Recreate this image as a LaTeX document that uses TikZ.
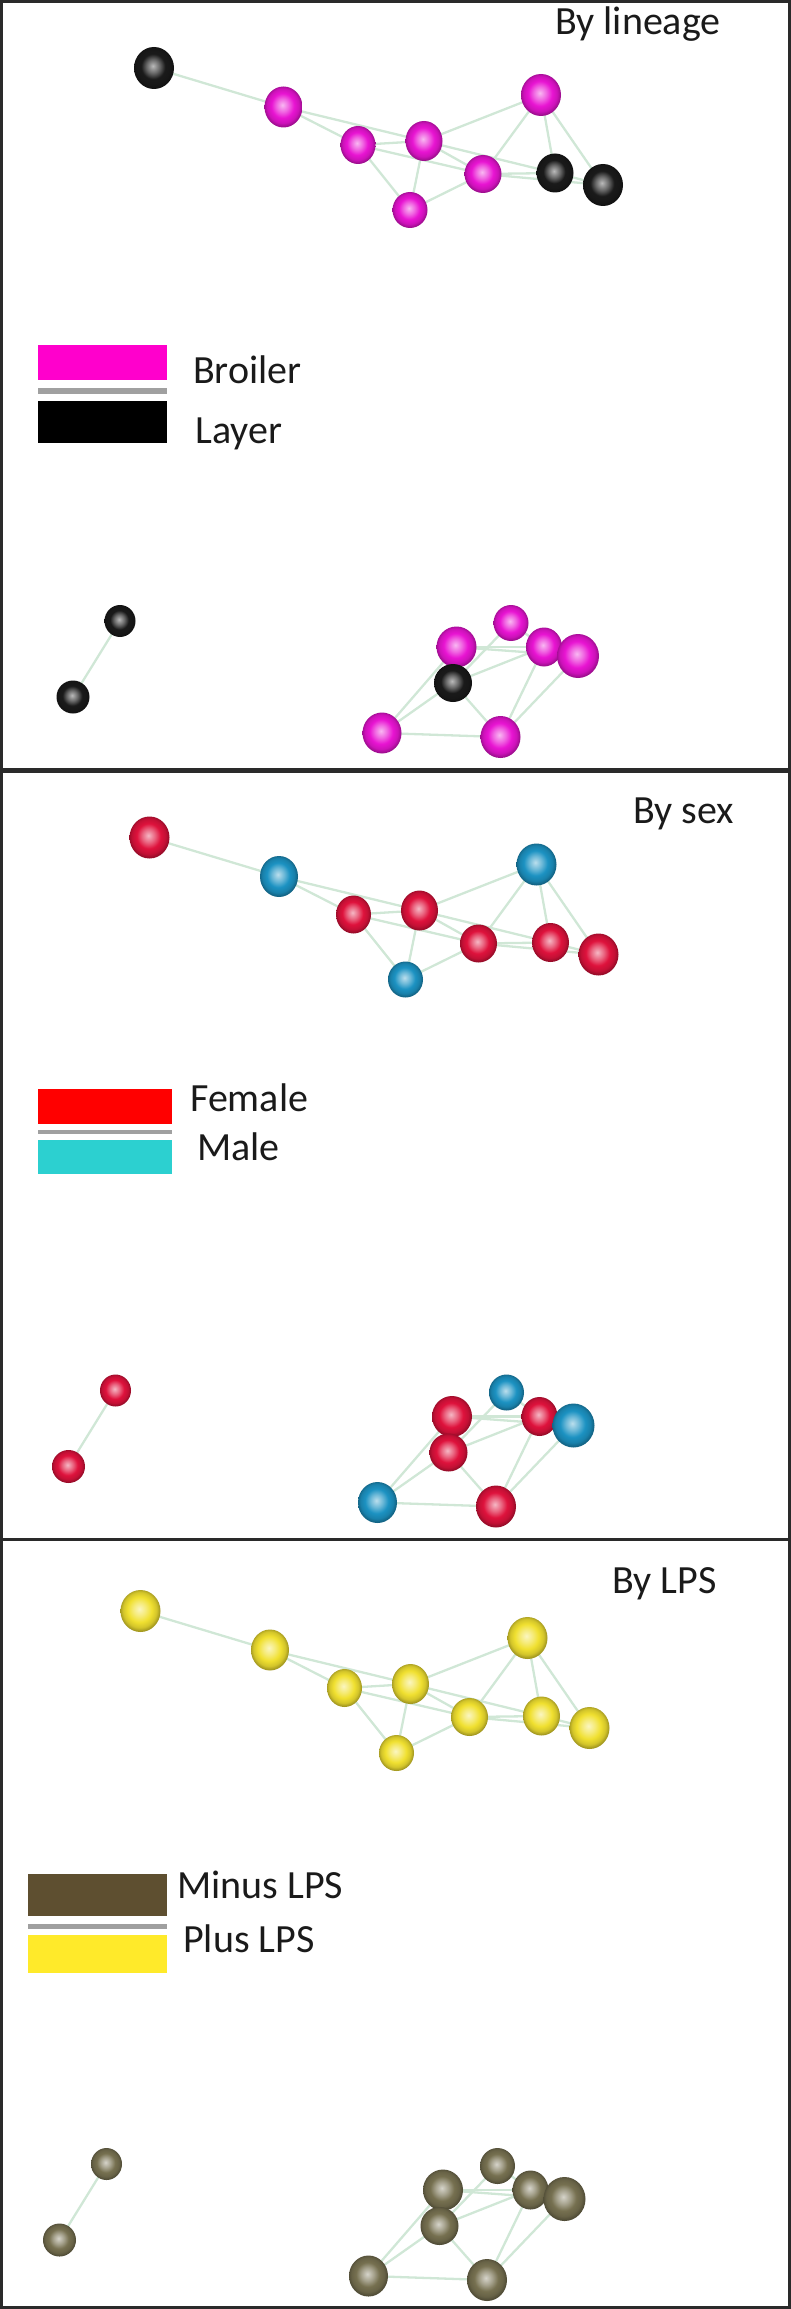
\documentclass[tikz,border=0pt]{standalone}
\usepackage{fontspec}
\setmainfont{Carlito}
\usetikzlibrary{shapes.geometric,backgrounds}
\makeatletter
\pgfdeclareradialshading[tikz@ball]{netball}{\pgfqpoint{-1.5bp}{2.5bp}}{%
 color(0bp)=(tikz@ball!30!white);
 color(8bp)=(tikz@ball!65!white);
 color(15bp)=(tikz@ball);
 color(21bp)=(tikz@ball!88!black);
 color(25bp)=(tikz@ball!68!black);
 color(50bp)=(tikz@ball!68!black)}
\makeatother
\definecolor{ballmag}{HTML}{E814D2}
\definecolor{ballblk}{HTML}{1A1A1A}
\definecolor{ballred}{HTML}{DE123C}
\definecolor{ballblue}{HTML}{1C92C2}
\definecolor{ballyel}{HTML}{F0E030}
\definecolor{ballbrn}{HTML}{767050}
\definecolor{legmag}{HTML}{FF00CC}
\definecolor{legred}{HTML}{FF0000}
\definecolor{legcyan}{HTML}{2CD0D0}
\definecolor{legbrn}{HTML}{5E4F30}
\definecolor{legyel}{HTML}{FFEA2A}
\definecolor{leggrey}{HTML}{A0A0A0}
\definecolor{edgegreen}{HTML}{D0E7D6}
\definecolor{framecol}{HTML}{2A2A2A}
\definecolor{txt}{HTML}{1A1A1A}
\begin{document}
\begin{tikzpicture}[x=1pt,y=-1pt,
  sz/.style 2 args={ellipse, inner sep=0pt, draw=none, minimum width=#1pt, minimum height=#2pt},
  mag/.style={ball color=ballmag, shading=netball},
  blk/.style={ball color=ballblk, shading=netball},
  red/.style={ball color=ballred, shading=netball},
  blu/.style={ball color=ballblue, shading=netball},
  yel/.style={ball color=ballyel, shading=netball},
  brn/.style={ball color=ballbrn, shading=netball},
  edge/.style={draw=edgegreen, line width=2.3pt},
  lbl/.style={anchor=base west, inner sep=0pt, text=txt, font=\fontsize{40}{48}\selectfont},
  framel/.style={draw=framecol}
]
\useasboundingbox (0,0) rectangle (791,2309);

% ---------------- Panel 1: By lineage ----------------
\node[sz={40}{42}, blk] (A1) at (154,68) {};
\node[sz={38}{41}, mag] (B1) at (283.5,107) {};
\node[sz={35}{38}, mag] (C1) at (358,145) {};
\node[sz={37}{40}, mag] (D1) at (424,141) {};
\node[sz={40}{42}, mag] (E1) at (541,95) {};
\node[sz={37}{38}, mag] (F1) at (483,174) {};
\node[sz={37}{39}, blk] (G1) at (555,173) {};
\node[sz={40}{42}, blk] (H1) at (603,185) {};
\node[sz={35}{36}, mag] (I1) at (410,210) {};
\node[sz={31}{32}, blk] (J1) at (120,621) {};
\node[sz={33}{33}, blk] (K1) at (73,697) {};
\node[sz={35}{36}, mag] (L1) at (511,623) {};
\node[sz={40}{41}, mag] (M1) at (456.5,647) {};
\node[sz={36}{39}, mag] (N1) at (544,647) {};
\node[sz={42}{44}, mag] (O1) at (578,656) {};
\node[sz={38}{38}, blk] (P1) at (453,683) {};
\node[sz={39}{41}, mag] (Q1) at (382,733) {};
\node[sz={40}{42}, mag] (R1) at (500.5,737) {};

% ---------------- Panel 2: By sex ----------------
\begin{scope}[shift={(-4.5,769.5)}]
\node[sz={40}{42}, red] (A2) at (154,68) {};
\node[sz={38}{41}, blu] (B2) at (283.5,107) {};
\node[sz={35}{38}, red] (C2) at (358,145) {};
\node[sz={37}{40}, red] (D2) at (424,141) {};
\node[sz={40}{42}, blu] (E2) at (541,95) {};
\node[sz={37}{38}, red] (F2) at (483,174) {};
\node[sz={37}{39}, red] (G2) at (555,173) {};
\node[sz={40}{42}, red] (H2) at (603,185) {};
\node[sz={35}{36}, blu] (I2) at (410,210) {};
\node[sz={31}{32}, red] (J2) at (120,621) {};
\node[sz={33}{33}, red] (K2) at (73,697) {};
\node[sz={35}{36}, blu] (L2) at (511,623) {};
\node[sz={40}{41}, red] (M2) at (456.5,647) {};
\node[sz={36}{39}, red] (N2) at (544,647) {};
\node[sz={42}{44}, blu] (O2) at (578,656) {};
\node[sz={38}{38}, red] (P2) at (453,683) {};
\node[sz={39}{41}, blu] (Q2) at (382,733) {};
\node[sz={40}{42}, red] (R2) at (500.5,737) {};
\end{scope}

% ---------------- Panel 3: By LPS ----------------
\begin{scope}[shift={(-13.5,1543)}]
\node[sz={40}{42}, yel] (A3) at (154,68) {};
\node[sz={38}{41}, yel] (B3) at (283.5,107) {};
\node[sz={35}{38}, yel] (C3) at (358,145) {};
\node[sz={37}{40}, yel] (D3) at (424,141) {};
\node[sz={40}{42}, yel] (E3) at (541,95) {};
\node[sz={37}{38}, yel] (F3) at (483,174) {};
\node[sz={37}{39}, yel] (G3) at (555,173) {};
\node[sz={40}{42}, yel] (H3) at (603,185) {};
\node[sz={35}{36}, yel] (I3) at (410,210) {};
\node[sz={31}{32}, brn] (J3) at (120,621) {};
\node[sz={33}{33}, brn] (K3) at (73,697) {};
\node[sz={35}{36}, brn] (L3) at (511,623) {};
\node[sz={40}{41}, brn] (M3) at (456.5,647) {};
\node[sz={36}{39}, brn] (N3) at (544,647) {};
\node[sz={42}{44}, brn] (O3) at (578,656) {};
\node[sz={38}{38}, brn] (P3) at (453,683) {};
\node[sz={39}{41}, brn] (Q3) at (382,733) {};
\node[sz={40}{42}, brn] (R3) at (500.5,737) {};
\end{scope}

% ---------------- Edges (behind the balls) ----------------
\begin{scope}[on background layer]
\foreach \p in {1,2,3}{
  \foreach \a/\b in {A/B,B/C,B/D,C/D,C/F,D/F,D/G,C/I,D/I,I/F,D/E,E/F,E/G,E/H,F/G,F/H,G/H,
                     J/K,L/N,L/P,M/N,M/O,N/P,M/P,Q/P,Q/M,Q/R,P/R,N/R,O/R,N/O}
    \draw[edge] (\a\p.center) -- (\b\p.center);
}
\end{scope}

% ---------------- Titles ----------------
\node[lbl] (t1) at (555,35) {By lineage};
\node[lbl] (t2) at (633,823) {By sex};
\node[lbl] (t3) at (612,1593) {By LPS};

% ---------------- Legends ----------------
\fill[legmag] (38,345) rectangle (167,380);
\fill[leggrey] (38,388) rectangle (167,394);
\fill[black] (38,401) rectangle (167,443);
\node[lbl] (l1a) at (193,383) {Broiler};
\node[lbl] (l1b) at (195,443) {Layer};

\fill[legred] (38,1089) rectangle (172,1124);
\fill[leggrey] (38,1129.5) rectangle (172,1133.5);
\fill[legcyan] (38,1139.5) rectangle (172,1173.5);
\node[lbl] (l2a) at (190,1111) {Female};
\node[lbl] (l2b) at (197,1160) {Male};

\fill[legbrn] (28,1874) rectangle (167,1916);
\fill[leggrey] (28,1923.5) rectangle (167,1928.5);
\fill[legyel] (28,1935) rectangle (167,1973);
\node[lbl] (l3a) at (177,1898) {Minus LPS};
\node[lbl] (l3b) at (183,1952) {Plus LPS};

% ---------------- Frame ----------------
\draw[framel, line width=3pt] (1.5,1.5) rectangle (789.5,2307.5);
\draw[framel, line width=5pt] (0,770.5) -- (791,770.5);
\draw[framel, line width=3pt] (0,1539) -- (791,1539);
\end{tikzpicture}
\end{document}
